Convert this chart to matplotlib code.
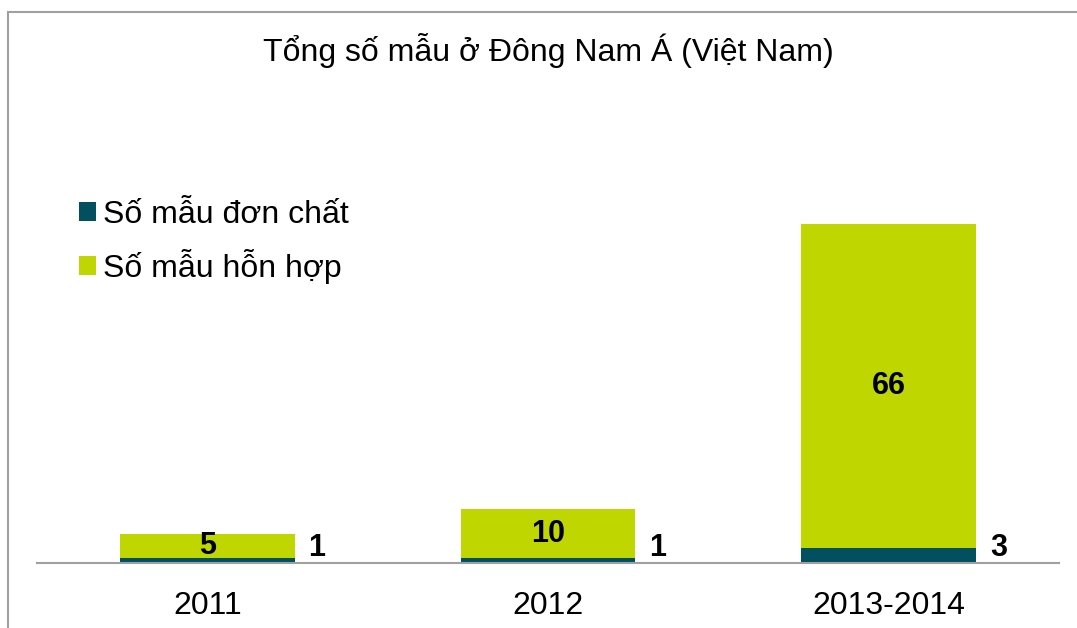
import matplotlib
matplotlib.use('Agg')
import matplotlib.pyplot as plt
import matplotlib.patches as mpatches
import numpy as np

plt.rcParams['font.family'] = ['Liberation Sans', 'DejaVu Sans']

# số liệu
years = ['2011', '2012', '2013-2014']
don_chat = [1, 1, 3]
hon_hop = [5, 10, 66]

c_dark = '#02505F'
c_green = '#BFD600'

fig = plt.figure(figsize=(10.77, 6.28), dpi=100)
ax = fig.add_axes([37 / 1077, 1 - 563 / 628, 1022 / 1077, 0.626])

x = np.arange(len(years))
w = 0.513
b1 = ax.bar(x, don_chat, w, color=c_dark, label='Số mẫu đơn chất')
b2 = ax.bar(x, hon_hop, w, bottom=don_chat, color=c_green, label='Số mẫu hỗn hợp')

ax.set_xlim(-0.5, 2.5)
ax.set_ylim(0, 80)

# nhãn số liệu
for i in range(len(years)):
    ax.annotate(str(don_chat[i]), xy=(x[i] + w / 2, 0), xytext=(16, 11),
                textcoords='offset points', ha='center', va='center',
                fontsize=22, fontweight='bold')
    ax.text(x[i], don_chat[i] + hon_hop[i] / 2, str(hon_hop[i]),
            ha='center', va='center', fontsize=22, fontweight='bold')

for s in ['top', 'right', 'left']:
    ax.spines[s].set_visible(False)
ax.spines['bottom'].set_color('#A0A0A0')
ax.spines['bottom'].set_linewidth(1.5)
ax.set_yticks([])
ax.set_xticks(x)
ax.set_xticklabels(years, fontsize=23)
ax.tick_params(axis='x', length=0, pad=20)

fig.text(548 / 1077, 1 - 50 / 628, 'Tổng số mẫu ở Đông Nam Á (Việt Nam)',
         ha='center', va='center', fontsize=23)

ax.legend(handles=[b1, b2], loc='upper left', bbox_to_anchor=(50 / 1077, 1 - 171 / 628),
          bbox_transform=fig.transFigure, frameon=False, fontsize=23,
          handlelength=0.55, handleheight=0.55, handletextpad=0.2, labelspacing=0.6)

# khung viền
fig.patches.append(mpatches.Rectangle((8 / 1077, -0.1), 1.2, 1.1 - 12 / 628,
                                      transform=fig.transFigure, fill=False,
                                      edgecolor='#A0A0A0', linewidth=1.5))

fig.savefig('out.png', dpi=100)
